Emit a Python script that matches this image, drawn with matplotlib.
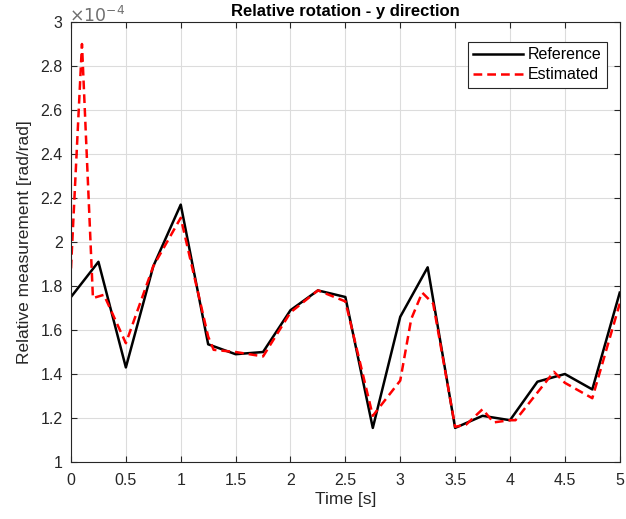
import matplotlib
matplotlib.use("Agg")
import matplotlib.pyplot as plt
from matplotlib.ticker import FormatStrFormatter

plt.rcParams["font.family"] = ["Liberation Sans", "DejaVu Sans"]

# -----------------------------------------
# DATA (values in units of 1e-4 rad/rad)
# -----------------------------------------

t_ref = [0, 0.25, 0.5, 0.75, 1.0, 1.25, 1.5, 1.75, 2.0, 2.25, 2.5,
         2.75, 3.0, 3.25, 3.5, 3.75, 4.0, 4.25, 4.5, 4.75, 5.0]
y_ref = [1.75, 1.91, 1.43, 1.89, 2.17, 1.535, 1.49, 1.50, 1.69, 1.78, 1.75,
         1.155, 1.66, 1.885, 1.155, 1.21, 1.19, 1.365, 1.40, 1.33, 1.77]

t_est = [0, 0.1, 0.2, 0.3, 0.5, 0.75, 1.0, 1.25, 1.3, 1.5, 1.75, 2.0, 2.25,
         2.5, 2.75, 3.0, 3.1, 3.2, 3.3, 3.5, 3.6, 3.75, 3.85, 4.0, 4.05,
         4.4, 4.5, 4.75, 5.0]
y_est = [1.88, 2.90, 1.745, 1.76, 1.54, 1.89, 2.11, 1.57, 1.51, 1.50, 1.48,
         1.68, 1.78, 1.73, 1.21, 1.37, 1.65, 1.77, 1.72, 1.16, 1.17, 1.24,
         1.18, 1.19, 1.19, 1.41, 1.36, 1.29, 1.72]

x_ticks = [0, 0.5, 1, 1.5, 2, 2.5, 3, 3.5, 4, 4.5, 5]
y_ticks = [1, 1.2, 1.4, 1.6, 1.8, 2, 2.2, 2.4, 2.6, 2.8, 3]

# -----------------------------------------
# PLOT
# -----------------------------------------

fig = plt.figure(figsize=(6.26, 5.19), dpi=100)
ax = fig.add_axes([0.1134, 0.1098, 0.8766, 0.8478])

ax.plot(t_ref, y_ref, color="black", lw=1.8, label="Reference")
ax.plot(t_est, y_est, color="red", lw=1.8, ls=(0, (3.5, 2)), label="Estimated")

ax.set_xlim(0, 5)
ax.set_ylim(1, 3)
ax.set_xticks(x_ticks)
ax.set_yticks(y_ticks)
ax.xaxis.set_major_formatter(FormatStrFormatter("%g"))
ax.yaxis.set_major_formatter(FormatStrFormatter("%g"))
ax.tick_params(direction="in", top=True, right=True, labelsize=11.5,
               colors="#262626", length=4)
ax.tick_params(axis="x", pad=8)
ax.tick_params(axis="y", pad=6)
ax.grid(True, color="#dcdcdc", lw=0.8)
ax.set_axisbelow(True)
for s in ax.spines.values():
    s.set_color("#262626")

ax.set_xlabel("Time [s]", fontsize=12.5, color="#262626", labelpad=3)
ax.set_ylabel("Relative measurement [rad/rad]", fontsize=12.5, color="#262626",
              labelpad=6)
ax.set_title("Relative rotation - y direction", fontsize=12, fontweight="bold",
             pad=4)
ax.text(-0.003, 1.0, r"$\times10^{-4}$", transform=ax.transAxes, fontsize=12.5,
        color="#707070", va="baseline", ha="left")

leg = ax.legend(loc="upper right", bbox_to_anchor=(0.977, 0.955), borderaxespad=0,
                fontsize=11.5, fancybox=False, edgecolor="#262626", framealpha=1,
                handlelength=3.1, handletextpad=0.3, labelspacing=0.3,
                borderpad=0.35)
leg.get_frame().set_linewidth(0.8)

fig.savefig("out.png", dpi=100)
